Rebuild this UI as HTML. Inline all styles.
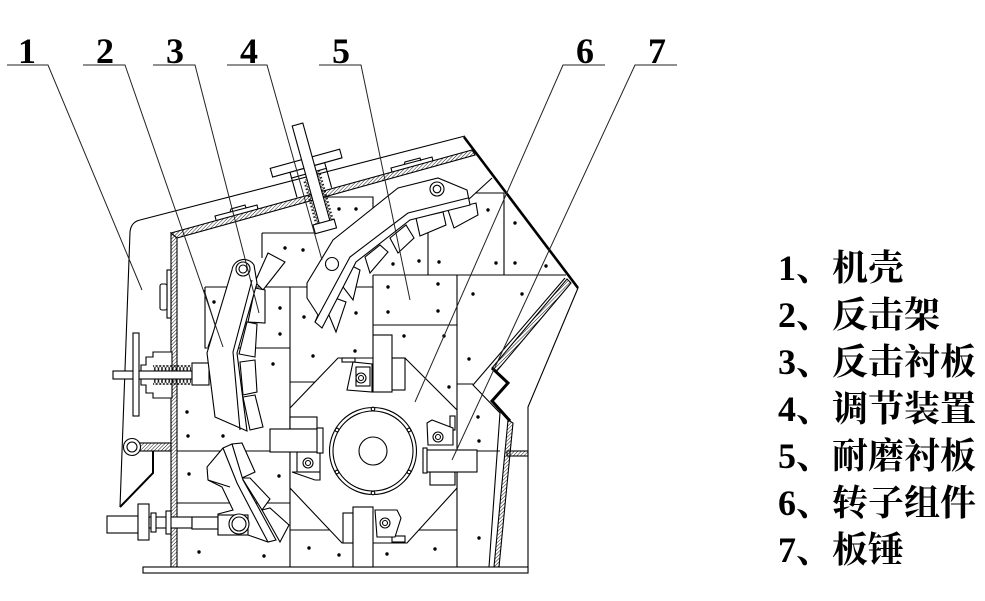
<!DOCTYPE html>
<html><head><meta charset="utf-8">
<style>
html,body{margin:0;padding:0;background:#fff;}
svg{display:block}
.t{font-family:"Liberation Serif","Noto Serif CJK SC",serif;font-size:36px;fill:#000;font-weight:bold;}
.l{font-family:"Liberation Serif","Noto Serif CJK SC",serif;font-size:36px;fill:#000;font-weight:bold;}
</style></head><body>
<svg width="985" height="601" viewBox="0 0 985 601" xmlns="http://www.w3.org/2000/svg">
<defs>
<pattern id="h" width="2.5" height="2.5" patternUnits="userSpaceOnUse" patternTransform="rotate(45)"><line x1="0" y1="0" x2="0" y2="2.5" stroke="#000" stroke-width="0.9"/></pattern>
<pattern id="c" width="3.6" height="6" patternUnits="userSpaceOnUse"><ellipse cx="1.8" cy="3" rx="1.5" ry="2.6" fill="none" stroke="#000" stroke-width="0.7"/></pattern>
<pattern id="cv" width="6" height="3.6" patternUnits="userSpaceOnUse"><ellipse cx="3" cy="1.8" rx="2.4" ry="1.5" fill="none" stroke="#000" stroke-width="0.7"/></pattern>
</defs>
<rect width="985" height="601" fill="#fff"/>

<g fill="none" stroke="#000" stroke-width="1.1">
<path d="M205,287 L373,287 M205,287 L205,348 L290,348 M290,287 L290,567 M177,451 L290,451 M177,503 L290,503 M290,382 L317,382 M290,530 L343,530 M407,530 L457,530 M457,275 L457,567 M373,325 L457,325 M373,275 L373,335 M373,275 L566,275 M428,230 L428,275 M504,193 L504,275 M475,193 L504,193 M492,178 L468,200 M457,384 L473,384 M477,451 L500,451 M262,233 L317,233 M262,233 L262,258 M325,197 L373,197 L373,208"/>
<path d="M204,290 L222,347 M230,287 L208,347"/>
</g>

<g fill="#000">
<circle cx="285" cy="248" r="1.7"/><circle cx="303" cy="250" r="1.7"/><circle cx="339" cy="209" r="1.7"/><circle cx="356" cy="209" r="1.7"/>
<circle cx="214" cy="302" r="1.7"/><circle cx="280" cy="308" r="1.7"/><circle cx="280" cy="334" r="1.7"/><circle cx="273" cy="364" r="1.7"/>
<circle cx="227" cy="407" r="1.7"/><circle cx="187" cy="412" r="1.7"/><circle cx="188" cy="436" r="1.7"/><circle cx="223" cy="436" r="1.7"/>
<circle cx="189" cy="474" r="1.7"/><circle cx="279" cy="476" r="1.7"/><circle cx="199" cy="552" r="1.7"/><circle cx="264" cy="556" r="1.7"/>
<circle cx="304" cy="317" r="1.7"/><circle cx="356" cy="313" r="1.7"/><circle cx="313" cy="356" r="1.7"/><circle cx="355" cy="351" r="1.7"/>
<circle cx="309" cy="548" r="1.7"/><circle cx="339" cy="555" r="1.7"/><circle cx="387" cy="554" r="1.7"/><circle cx="435" cy="549" r="1.7"/>
<circle cx="388" cy="287" r="1.7"/><circle cx="438" cy="284" r="1.7"/><circle cx="388" cy="312" r="1.7"/><circle cx="438" cy="311" r="1.7"/>
<circle cx="404" cy="336" r="1.7"/><circle cx="444" cy="336" r="1.7"/><circle cx="473" cy="294" r="1.7"/><circle cx="522" cy="294" r="1.7"/>
<circle cx="469" cy="359" r="1.7"/><circle cx="449" cy="387" r="1.7"/><circle cx="478" cy="417" r="1.7"/><circle cx="479" cy="441" r="1.7"/>
<circle cx="479" cy="538" r="1.7"/><circle cx="488" cy="210" r="1.7"/><circle cx="515" cy="223" r="1.7"/><circle cx="393" cy="264" r="1.7"/>
<circle cx="419" cy="261" r="1.7"/><circle cx="439" cy="262" r="1.7"/><circle cx="496" cy="263" r="1.7"/><circle cx="515" cy="263" r="1.7"/>
<circle cx="546" cy="266" r="1.7"/>
</g>

<g fill="none" stroke="#000" stroke-width="1.1">
<path d="M120,507 L130,232 Q131,222 140,220 L465,136"/>
<path d="M464,137 L578,288" stroke-width="2.6"/>
<path d="M578,288 L528,407 L528,572"/>
<path d="M120,507 L153,473 L153,451" stroke-width="2"/>
<polygon points="171,233 177,238 177,567 171,567" fill="url(#h)"/>
<polygon points="171,233 472,150 475,155 177,238" fill="url(#h)"/>
<polygon points="567,279 571,283 496,372 492,368" fill="url(#h)"/>
<polyline points="492,368 508,383 492,401 510,421" stroke-width="3"/>
<polygon points="508,420 513,423 499,567 494,567" fill="url(#h)"/>
<polyline points="565,278 473,385 500,413 489,567"/>
<rect x="507" y="451" width="21" height="5" fill="url(#h)"/>
<rect x="143" y="567" width="385" height="6" fill="#fff"/>
<path d="M216,220 L215,216 L257,205 L258,209 M230,212 L231,209 L245,205 L246,208"/>
<path d="M392,172 L391,168 L432,157 L433,161 M404,165 L405,162 L420,158 L421,161"/>
<rect x="167" y="270" width="4" height="48" fill="#fff"/>
<rect x="160" y="284" width="7" height="26" rx="2" fill="#fff"/>
<rect x="140" y="443" width="31" height="8" fill="url(#h)"/>
<circle cx="132" cy="447" r="8.5" fill="#fff"/>
<circle cx="132" cy="447" r="5"/>
<polygon points="172,352 153,352 153,357 146,357 146,365 141,365 141,385 146,385 146,393 153,393 153,398 172,398" fill="#fff"/>
<rect x="153" y="365" width="38" height="6" fill="url(#c)" stroke="none"/>
<rect x="153" y="379" width="38" height="6" fill="url(#c)" stroke="none"/>
<rect x="113" y="371" width="79" height="8" fill="#fff"/>
<rect x="133" y="333" width="6" height="83" fill="#fff"/>
<rect x="192" y="363" width="17" height="22" fill="#fff"/>
<rect x="107" y="516" width="31" height="17" fill="#fff"/>
<rect x="138" y="504" width="11" height="36" fill="#fff"/>
<rect x="149" y="517" width="43" height="11" fill="#fff"/>
<rect x="151" y="513" width="5" height="19" fill="#fff"/>
<rect x="166" y="511" width="5" height="23" fill="#fff"/>
<rect x="192" y="517" width="26" height="12" fill="#fff"/>
</g>

<g fill="#fff" stroke="#000" stroke-width="1.1">
<polygon points="338,358 405,358 457,410 457,488 407,543 342,543 290,488 290,408"/>
<circle cx="373" cy="451" r="43.5"/>
<circle cx="373" cy="451" r="40"/>
<circle cx="373" cy="451" r="14"/>
<circle cx="373" cy="409" r="1.8"/><circle cx="373" cy="493" r="1.8"/>
<circle cx="337" cy="430" r="1.8"/><circle cx="409" cy="430" r="1.8"/>
<circle cx="337" cy="472" r="1.8"/><circle cx="409" cy="472" r="1.8"/>
<rect x="342" y="358" width="13" height="4"/>
<polygon points="353,362 347,390 372,392 372,364"/>
<rect x="356" y="367" width="14" height="19"/>
<circle cx="361" cy="378" r="5"/><circle cx="361" cy="378" r="2.5"/>
<rect x="392" y="358" width="13" height="32"/>
<rect x="373" y="335" width="19" height="57"/>
<rect x="290" y="417" width="27" height="12"/>
<polygon points="292,472 315,480 320,480 320,472"/>
<rect x="297" y="452" width="23" height="20"/>
<circle cx="308" cy="463" r="5"/><circle cx="308" cy="463" r="2.5"/>
<rect x="270" y="429" width="48" height="23"/>
<rect x="317" y="428" width="6" height="25"/>
<rect x="450" y="416" width="5" height="14"/>
<polygon points="427,423 432,420 453,428 453,445 428,445"/>
<circle cx="438" cy="437" r="5"/><circle cx="438" cy="437" r="2.5"/>
<rect x="430" y="472" width="25" height="13"/>
<rect x="425" y="450" width="52" height="22"/>
<rect x="423" y="448" width="4" height="25"/>
<rect x="343" y="513" width="10" height="30"/>
<rect x="392" y="536" width="13" height="6"/>
<polygon points="375,510 397,510 401,518 395,537 377,537"/>
<circle cx="385" cy="523" r="5"/><circle cx="385" cy="523" r="2.5"/>
<rect x="353" y="507" width="20" height="60"/>
</g>

<g fill="#fff" stroke="#000" stroke-width="1.1">
<polygon points="255,282 268,253 285,262 263,290"/>
<polygon points="255,288 265,290 265,323 248,322"/>
<polygon points="247,322 257,324 255,357 239,354"/>
<polygon points="240,362 255,360 257,392 243,395"/>
<polygon points="243,397 255,395 263,427 250,430"/>
<path d="M232,270 A12,12 0 0 1 254,265 L257,283 L237,353 L247,431 L215,417 L207,353 Z"/>
<path d="M252,280 L233,352 L240,430" fill="none"/>
<circle cx="243" cy="269" r="7"/><circle cx="243" cy="269" r="4"/>
<polygon points="448,210 476,203 478,215 454,228"/>
<polygon points="416,218 443,212 446,225 420,236"/>
<polygon points="390,238 406,225 414,238 398,253"/>
<polygon points="365,257 380,245 388,252 370,273"/>
<polygon points="340,283 350,265 360,270 353,300"/>
<polygon points="326,308 335,298 346,302 336,332"/>
<path d="M398,188 L438,178 L467,190 L470,205 L410,220 L356,262 L322,328 L315,322 L318,315 L307,298 L307,283 L333,240 Z"/>
<path d="M468,198 L408,213 L350,257 L315,322" fill="none"/>
<circle cx="437" cy="189" r="7"/><circle cx="437" cy="189" r="3.8"/>
<circle cx="332" cy="264" r="6.5"/>
<polygon points="232,444 242,443 255,472 242,478"/>
<polygon points="242,478 250,478 270,499 262,510"/>
<polygon points="262,510 270,508 289,525 280,542"/>
<path d="M223,448 L232,444 L243,480 L257,505 L276,540 L268,542 L248,535 L218,535 L218,514 L233,510 L222,487 L208,480 L207,467 Z"/>
<path d="M223,448 L237,483 L250,508 L268,542 M208,480 L230,487" fill="none"/>
<rect x="218" y="515" width="30" height="20"/>
<circle cx="239" cy="524" r="10"/><circle cx="239" cy="524" r="7"/>
</g>

<g transform="translate(297.5,124.5) rotate(-15.5)" fill="#fff" stroke="#000" stroke-width="1.1">
<path d="M-20,48 L-20,70 M16,48 L16,70" fill="none"/>
<rect x="-9.5" y="55" width="4" height="50" fill="url(#cv)" stroke="none"/>
<rect x="5.5" y="48" width="4" height="57" fill="url(#cv)" stroke="none"/>
<rect x="-20" y="44" width="36" height="6"/>
<rect x="-38" y="35" width="72" height="9"/>
<rect x="-5.5" y="0" width="11" height="108"/>
<rect x="-12" y="101" width="22" height="9"/>
</g>

<g fill="none" stroke="#222" stroke-width="1">
<path d="M7,65 L48,65 L142,290"/>
<path d="M83,65 L125,65 L223,347"/>
<path d="M153,65 L195,65 L259,313"/>
<path d="M227,65 L267,65 L322,260"/>
<path d="M319,65 L361,65 L410,300"/>
<path d="M605,65 L563,65 L415,402"/>
<path d="M677,65 L635,65 L452,460"/>
</g>
<g class="t" text-anchor="middle">
<text x="27" y="63">1</text>
<text x="105" y="63">2</text>
<text x="175" y="63">3</text>
<text x="249" y="63">4</text>
<text x="341" y="63">5</text>
<text x="585" y="63">6</text>
<text x="657" y="63">7</text>
</g>
<g class="l">
<text x="778" y="280">1、机壳</text>
<text x="778" y="327">2、反击架</text>
<text x="778" y="374">3、反击衬板</text>
<text x="778" y="421">4、调节装置</text>
<text x="778" y="468">5、耐磨衬板</text>
<text x="778" y="515">6、转子组件</text>
<text x="778" y="562">7、板锤</text>
</g>
</svg>
</body></html>
